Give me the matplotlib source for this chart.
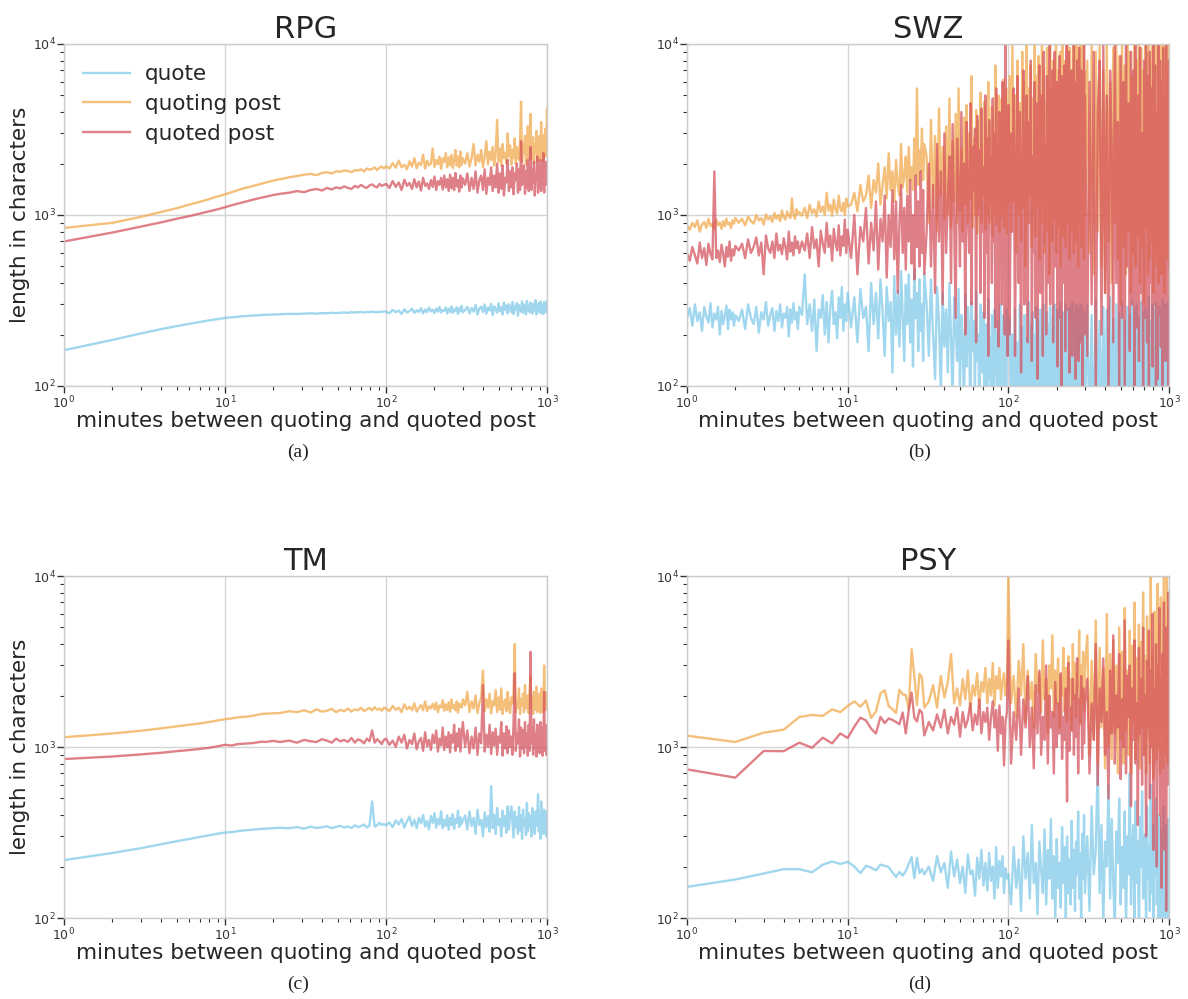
import matplotlib
matplotlib.use("Agg")
import matplotlib.pyplot as plt
from matplotlib.ticker import LogLocator, NullFormatter

# ---------------- x grids (minutes) ----------------
GRID_A = list(range(1, 21)) + list(range(22, 100, 3)) + list(range(100, 301, 5)) + list(range(310, 1001, 10))
GRID_PSY = list(range(1, 31)) + list(range(32, 100, 2)) + list(range(100, 301, 4)) + list(range(310, 1001, 10))
GRID_SWZ = ([round(1 + 0.04 * i, 2) for i in range(26)] + [round(2.1 + 0.1 * i, 1) for i in range(30)]
            + [round(5.2 + 0.2 * i, 1) for i in range(25)] + [10.5 + 0.5 * i for i in range(40)]
            + list(range(31, 101)) + list(range(102, 301, 2)) + list(range(310, 1001, 10)))

# ---------------- RPG ----------------
RPG_QUOTE = [162, 186, 203, 215, 224, 231, 237, 242, 246, 250, 252, 254, 256, 257, 258, 259, 260, 261, 261, 262,
             263, 264, 264, 265, 266, 265, 267, 266, 268, 267, 268, 269, 268, 270, 269, 270, 271, 269, 271, 270, 272, 271, 270, 272, 271, 273,
             272, 266, 279, 270, 276, 264, 281, 269, 274, 283, 268, 277, 271, 285, 266, 280, 270, 287, 273, 279,
             267, 284, 272, 290, 269, 278, 275, 288, 265, 283, 271, 292, 268, 280, 276, 289, 264, 285, 273, 294, 270,
             278, 290, 266, 286, 272, 298, 262, 284, 291, 270, 300, 265, 288, 276, 302, 260, 293, 281, 268, 305,
             274, 289, 262, 308, 279, 296, 266, 301, 285, 270, 310, 263, 292, 280, 306, 258, 297, 284, 272, 312,
             268, 299, 287, 262, 315, 276, 294, 270, 308, 283, 265, 302, 290, 275, 318, 262, 296, 285, 306, 270,
             312, 266, 300, 288, 264, 310, 279, 296, 270, 314]
RPG_QUOTING = [840, 900, 975, 1040, 1095, 1150, 1195, 1240, 1285, 1320, 1360, 1395, 1430, 1455, 1480, 1505, 1530, 1550, 1570, 1590,
               1620, 1660, 1690, 1720, 1740, 1710, 1760, 1780, 1750, 1800, 1790, 1820, 1810, 1780, 1830, 1820, 1850, 1800, 1870, 1840, 1860, 1900, 1830, 1890, 1920, 1870,
               1930, 1870, 2010, 1890, 2080, 1900, 1970, 1850, 2060, 1920, 2150, 1880, 2020, 1960, 2250, 1870, 2080, 1950, 2000, 2450,
               1910, 2100, 1980, 2200, 1860, 2150, 2040, 2300, 1900, 2180, 1950, 2250, 1880, 2100, 2400, 1940, 2200, 1900, 2350, 1960, 2150,
               2000, 2300, 1920, 2150, 2600, 1950, 2250, 2050, 2400, 1900, 2200, 2700, 1980, 2350, 2100, 2500, 1940, 2300, 3600, 2050,
               2450, 1950, 2600, 2150, 2300, 2000, 3000, 2200, 2550, 1970, 2400, 2150, 2800, 2000, 2500, 2250, 2100, 2700, 4600, 2050,
               2600, 2300, 2900, 1980, 2450, 3300, 2150, 2700, 3900, 2100, 2500, 2850, 2000, 2600, 2350, 3100, 2050, 2750, 2400, 2900,
               2100, 3500, 2300, 2650, 2050, 2950, 2400, 3200, 2200, 4200]
RPG_QUOTED = [700, 790, 855, 905, 950, 985, 1020, 1050, 1080, 1110, 1140, 1165, 1190, 1210, 1230, 1250, 1265, 1280, 1295, 1310,
              1330, 1350, 1380, 1360, 1400, 1420, 1390, 1440, 1410, 1450, 1430, 1470, 1440, 1420, 1480, 1450, 1500, 1460, 1440, 1490, 1510, 1470, 1450, 1520, 1480, 1500,
              1520, 1440, 1580, 1460, 1550, 1400, 1610, 1480, 1540, 1420, 1620, 1450, 1570, 1390, 1650, 1480, 1530, 1420, 1600, 1460,
              1680, 1400, 1580, 1500, 1650, 1410, 1700, 1450, 1620, 1380, 1720, 1430, 1650, 1400, 1760, 1470, 1600, 1370, 1700, 1450, 1640,
              1500, 1750, 1380, 1650, 1420, 1800, 1350, 1600, 1700, 1400, 1850, 1330, 1650, 1500, 1900, 1380, 1700, 1450, 2000, 1350,
              1750, 1420, 1950, 1300, 1650, 1550, 2100, 1380, 1800, 1450, 1900, 1320, 1750, 1600, 2000, 1350, 1850, 1400, 2700, 1500,
              1700, 1950, 1330, 1800, 1450, 2100, 1380, 1900, 2500, 1400, 1850, 1550, 2050, 1300, 1750, 1600, 2200, 1350, 1950, 1450,
              2100, 1380, 1800, 1650, 2300, 1350, 1900, 1500, 2050, 2000]

# ---------------- TM ----------------
TM_QUOTE = [218, 240, 256, 270, 281, 290, 298, 305, 311, 316, 318, 322, 325, 327, 329, 331, 332, 333, 334, 335,
            337, 335, 340, 333, 342, 336, 339, 344, 335, 341, 346, 338, 343, 336, 348, 340, 345, 352, 338, 347, 480, 342, 349, 360, 350, 355,
            348, 362, 340, 372, 352, 380, 338, 368, 392, 345, 375, 335, 385, 358, 400, 342, 370, 330, 395, 360,
            410, 338, 380, 352, 420, 335, 375, 345, 398, 328, 385, 350, 405, 332, 378, 360, 425, 340, 388, 355, 370,
            398, 330, 420, 345, 385, 310, 430, 350, 375, 300, 415, 340, 395, 320, 590, 335, 400, 310, 440, 350,
            380, 300, 425, 345, 395, 315, 450, 330, 405, 450, 360, 295, 420, 340, 390, 310, 445, 325, 400, 290,
            430, 350, 380, 305, 470, 320, 410, 340, 395, 300, 440, 330, 385, 310, 420, 345, 400, 530, 320, 395,
            290, 480, 340, 410, 310, 430, 350, 380, 300, 420]
TM_QUOTING = [1140, 1200, 1245, 1285, 1320, 1350, 1375, 1400, 1430, 1455, 1470, 1490, 1500, 1510, 1525, 1545, 1560, 1565, 1570, 1575,
              1580, 1620, 1600, 1640, 1590, 1660, 1610, 1630, 1670, 1600, 1650, 1620, 1680, 1610, 1660, 1640, 1700, 1620, 1660, 1690, 1640, 1710, 1650, 1680, 1630, 1700,
              1680, 1620, 1740, 1650, 1700, 1600, 1780, 1660, 1720, 1640, 1800, 1610, 1690, 1760, 1640, 1850, 1620, 1730, 1680, 1790,
              1660, 1820, 1600, 1750, 1700, 1880, 1630, 1780, 1650, 1830, 1610, 1900, 1680, 1760, 1640, 1850, 1590, 1800, 1720, 1700, 1900,
              1750, 2100, 1600, 1850, 1680, 2000, 1580, 1800, 1950, 2800, 1620, 1900, 1700, 2050, 1570, 1850, 1750, 2150, 1600, 1950,
              1650, 2200, 1560, 1800, 1900, 1620, 2100, 1700, 1580, 1950, 1800, 2050, 4000, 1600, 1850, 1700, 2200, 1560, 1900, 1750,
              2050, 1600, 2300, 1680, 1850, 2000, 1580, 2150, 2600, 1700, 1950, 1560, 2100, 1800, 1650, 2250, 1600, 1900, 1750, 2050,
              1580, 2200, 1700, 1850, 1600, 3000, 1750, 2100, 1650, 1900]
TM_QUOTED = [850, 880, 905, 925, 945, 960, 975, 990, 1010, 1030, 1020, 1040, 1045, 1050, 1055, 1065, 1075, 1070, 1080, 1085,
             1070, 1090, 1060, 1100, 1080, 1070, 1110, 1090, 1060, 1120, 1080, 1100, 1070, 1130, 1060, 1110, 1090, 1050, 1120, 1080, 1250, 1060, 1110, 1080, 1040, 1100,
             1120, 1030, 1090, 1000, 1150, 1060, 1180, 980, 1100, 1040, 1200, 970, 1080, 1130, 950, 1220, 1010, 1100, 960, 1180,
             1050, 1250, 940, 1120, 1020, 1300, 960, 1150, 1000, 1220, 930, 1180, 1060, 1350, 950, 1200, 1010, 1280, 940, 1150, 1400,
             1000, 1250, 920, 1150, 980, 1300, 900, 1200, 1050, 2300, 940, 1180, 1000, 1350, 910, 1220, 1020, 1280, 900, 1150,
             1060, 1400, 890, 1200, 980, 1320, 920, 1250, 1000, 1150, 900, 1380, 2700, 950, 1200, 1050, 1450, 880, 1300, 980,
             1250, 920, 1400, 1000, 1200, 890, 1350, 950, 3600, 1050, 1300, 900, 1450, 980, 1200, 880, 1350, 1020, 1250, 920,
             1400, 960, 1300, 890, 1150, 2100, 950, 1350, 900, 1250]

# ---------------- PSY ----------------
PSY_QUOTE = [152, 168, 182, 193, 193, 185, 205, 214, 207, 213, 200, 183, 202, 197, 190, 205, 202, 198, 185, 174,
             186, 177, 188, 207, 227, 171, 225, 183, 193, 180,
             200, 165, 230, 185, 210, 150, 245, 175, 220, 160, 200, 140, 235, 180, 190, 135, 225, 170, 250, 155,
             210, 145, 240, 165, 200, 130, 260, 150, 215, 175, 230, 140, 195, 170,
             180, 120, 260, 150, 220, 110, 300, 170, 240, 130, 350, 160, 210, 105, 280, 190, 140, 330, 120, 250,
             170, 380, 130, 230, 100, 290, 150, 210, 115, 340, 160, 260, 95, 300, 140, 220, 120, 370, 150, 250,
             110, 280, 180, 420, 130, 240, 90, 310, 170, 400, 140,
             300, 110, 450, 180, 250, 800, 140, 350, 95, 280, 200, 600, 130, 380, 160, 90, 320, 210, 500, 120,
             260, 150, 420, 85, 300, 180, 700, 120, 240, 350, 100, 480, 160, 280, 75, 390, 200, 550, 130, 230,
             310, 90, 450, 170, 260, 110, 600, 140, 350, 80, 290, 180, 500, 120, 240, 70, 400, 150, 330, 95,
             280, 200, 450, 60, 350, 130, 250, 85, 380, 140]
PSY_QUOTING = [1165, 1070, 1213, 1263, 1497, 1540, 1520, 1660, 1600, 1735, 1850, 1720, 1870, 1480, 1610, 2060, 2150, 1735, 1660, 1580,
               2160, 2030, 2010, 1670, 3730, 2600, 1760, 2680, 2540, 1700,
               1850, 2300, 1700, 2600, 1950, 2400, 3500, 1800, 2200, 1750, 2500, 1900, 2800, 1650, 2300, 2000, 2700, 1700, 2400, 2100,
               2900, 1800, 2500, 2000, 3100, 1750, 2600, 2200, 2900, 1900, 2400, 2700, 2000, 2300,
               10000, 1800, 2600, 1500, 3200, 2000, 4000, 1400, 2800, 1900, 2400, 1300, 3500, 2100, 2700, 1600, 4200, 1900, 2500, 1200,
               3000, 2200, 4500, 1500, 2800, 1800, 3300, 1300, 2600, 2000, 3800, 1600, 2900, 1400, 3400, 2100, 2500, 1250, 4000, 1900,
               3100, 1500, 2700, 2200, 4800, 1350, 3000, 1800, 3600, 1600, 2900,
               4500, 900, 3200, 1100, 5500, 800, 3800, 1300, 2900, 750, 6000, 1000, 3500, 850, 4200, 1200, 3000, 700, 5000, 1100,
               3600, 800, 6500, 1250, 2800, 900, 4800, 700, 3900, 1400, 7000, 850, 3300, 1100, 5200, 750, 4100, 1300, 8000, 900,
               3400, 700, 5800, 1150, 4500, 800, 10000, 1000, 3600, 650, 6200, 1200, 4400, 850, 9000, 1000, 5000, 700, 7500, 1300,
               3800, 750, 10000, 1100, 5500, 900, 12000, 800, 6500, 1500]
PSY_QUOTED = [740, 662, 948, 945, 1060, 990, 1133, 1050, 1200, 1130, 1315, 1485, 1430, 1280, 1200, 1500, 1380, 1470, 1440, 1400,
              1360, 1590, 1200, 1650, 2080, 1485, 1410, 1650, 1590, 1170,
              1400, 1250, 1550, 1300, 1650, 1200, 1500, 1350, 1700, 1150, 1600, 1300, 1450, 1800, 1250, 1550, 1350, 1900, 1200, 1600,
              1400, 1700, 1100, 1500, 1850, 1300, 1650, 950, 1750, 1200, 1500, 780, 1400, 1600,
              4200, 800, 1600, 1100, 2200, 900, 1900, 1300, 2600, 1000, 1700, 750, 2300, 1200, 2800, 900, 1500, 1100, 3000, 800,
              2000, 1300, 1600, 700, 2400, 1000, 1800, 1200, 2700, 850, 1500, 1100, 2200, 480, 3100, 950, 1700, 1250, 2500, 900,
              2000, 1150, 3300, 700, 1900, 1400, 2600, 850, 2200, 1050, 1800,
              2500, 700, 1800, 1100, 4000, 600, 2200, 1400, 3300, 900, 1600, 500, 2800, 1200, 4500, 800, 2000, 1300, 3500, 650,
              1900, 1000, 5500, 700, 2600, 1500, 3000, 450, 2200, 1100, 4200, 800, 1800, 350, 3800, 1200, 2500, 600, 5000, 900,
              2000, 300, 3200, 1300, 4800, 500, 2800, 1000, 6000, 250, 2200, 800, 4000, 200, 3000, 1100, 6500, 400, 2600, 150,
              3500, 900, 7000, 250, 5000, 110, 4000, 600, 8000, 1500]

# ---------------- SWZ ----------------
SWZ_QUOTE = [250, 285, 225, 300, 240, 270, 210, 290, 255, 235, 305, 220, 265, 245, 290, 200, 275, 230, 260, 295, 215, 280, 245, 270, 225, 260,
             240, 280, 215, 300, 250, 230, 290, 205, 270, 245, 310, 225, 260, 285, 210, 275, 240, 300, 220, 265, 250, 290, 195, 280,
             235, 305, 245, 270, 215, 290,
             260, 450, 230, 300, 210, 320, 160, 280, 250, 340, 200, 310, 180, 290, 360, 230, 270, 190, 330, 250, 380, 210, 300, 240, 350,
             220, 330, 180, 370, 250, 290, 160, 400, 230, 350, 190, 420, 270, 150, 380, 240, 310, 120, 440, 200,
             360, 170, 470, 260, 140, 390, 230, 450, 180, 320, 130, 480, 250, 350, 160, 420, 210, 300, 140, 460,
             300, 150, 420, 200, 110, 380, 240, 90, 350, 170, 280, 120, 400, 190, 80, 330, 220, 140, 370, 100,
             260, 180, 75, 340, 130, 290, 210, 70, 310, 160, 240, 95, 360, 140, 200, 65, 300, 180, 120, 270,
             60, 230, 150, 90, 320, 110, 190, 55, 260, 140, 80, 280, 120, 210, 50, 240, 170, 70, 300, 100,
             190, 45, 260, 130, 85, 230, 60, 280, 150, 200,
             250, 60, 200, 45, 280, 80, 180, 50, 300, 70, 220, 40, 260, 90, 190, 55, 310, 65, 230, 45,
             270, 75, 200, 50, 290, 60, 240, 40, 280, 85, 210, 50, 300, 70, 250, 45, 270, 60, 230, 40,
             290, 55, 210, 80, 260, 45, 300, 65, 240, 50, 280, 70, 190, 45, 310, 60, 250, 40, 270, 85,
             220, 55, 300, 65, 240, 45, 280, 75, 200, 50, 290, 60, 260, 40, 310, 70, 230, 55, 270, 45,
             250, 80, 300, 50, 220, 60, 280, 40, 260, 70, 300, 55, 240, 45, 290, 65, 210, 50, 270, 60,
             300, 50, 260, 40, 320, 70, 240, 45, 290, 60, 280, 35, 330, 55, 250, 40, 300, 65, 270, 45,
             310, 50, 240, 35, 290, 70, 260, 40, 320, 55, 280, 45, 300, 60, 250, 35, 310, 50, 270, 40,
             290, 65, 260, 45, 330, 55, 240, 40, 300, 60, 280, 35, 310, 50, 260, 45, 290, 70, 250, 40,
             320, 55, 270, 45, 300, 60, 280, 35, 310, 50]
SWZ_QUOTING = [870, 820, 900, 850, 930, 800, 880, 910, 840, 950, 860, 890, 820, 940, 870, 905, 830, 920, 860, 950, 880, 900, 840, 930, 890, 960,
               900, 950, 870, 980, 920, 890, 1000, 930, 960, 880, 1010, 940, 980, 910, 1030, 950, 1000, 920, 1060, 970,
               940, 1050, 990, 960, 1250, 1000, 950, 1080, 1010, 1040,
               990, 1100, 960, 1150, 1020, 1080, 980, 1200, 1040, 1120, 1000, 1350, 1060, 1150, 990, 1230, 1080, 1020, 1300, 1100,
               1050, 1180, 1000, 1250, 1120,
               1150, 1350, 1050, 1500, 1200, 1300, 1700, 1100, 1600, 1350, 2000, 1150, 1500, 1900, 1250, 2300, 1400, 1800, 1200, 2100,
               1500, 1300, 2600, 1450, 1700, 2200, 1350, 2500, 1600, 1900, 1400, 2800, 1700, 5500, 1500, 2400, 1800, 3200, 1600, 2600,
               2200, 900, 3600, 1100, 2900, 800, 4200, 1300, 2500, 950, 3300, 1000, 4800, 850, 2700, 1200, 3900, 900, 5500, 1050,
               2400, 800, 3700, 1150, 4400, 900, 3000, 1250, 6500, 850, 2800, 1000, 4100, 780, 3500, 1100, 5200, 900, 2600, 1300,
               4600, 820, 3400, 1000, 6000, 900, 2900, 1150, 4300, 750, 3800, 1050, 7500, 880, 3100, 1200, 5000, 800, 3600, 950,
               4800, 1100, 6200, 850, 3300, 1000, 5500, 780, 4000, 1200,
               6500, 800, 10000, 1200, 5000, 600, 8000, 1000, 4500, 700, 9000, 1100, 6000, 500, 10000, 900, 5500, 1300, 7500, 650,
               4800, 1000, 10000, 750, 6500, 1150, 8500, 550, 5200, 900, 10000, 1200, 7000, 600, 4500, 1000, 9500, 800, 6000, 450,
               10000, 1100, 5500, 700, 8000, 950, 4200, 1250, 10000, 600, 7000, 850, 5800, 1100, 9000, 500, 6500, 1000, 10000, 750,
               5000, 1200, 8000, 650, 6000, 900, 10000, 1100, 4800, 550, 9500, 1000, 7000, 800, 5500, 1300, 10000, 600, 8000, 950,
               6500, 700, 10000, 1150, 5200, 500, 9000, 900, 7500, 1050, 10000, 650, 6000, 1200, 8500, 800, 10000, 550, 7000, 1000,
               8000, 600, 10000, 450, 9000, 800, 10000, 500, 7000, 350, 10000, 700, 6000, 400, 9500, 900, 10000, 550, 8500, 300,
               10000, 650, 7500, 450, 10000, 800, 9000, 350, 6500, 600, 10000, 500, 8000, 750, 10000, 400, 9500, 650, 7000, 300,
               10000, 850, 9000, 450, 10000, 550, 8000, 700, 10000, 350, 7500, 600, 10000, 500, 9500, 400, 10000, 800, 6500, 450,
               10000, 650, 9000, 350, 10000, 550, 8500, 700, 10000, 500]
SWZ_QUOTED = [600, 540, 650, 580, 520, 690, 560, 640, 510, 680, 590, 550, 1800, 560, 620, 530, 670, 590, 500, 650, 570, 700, 540, 630, 580, 660,
              620, 680, 560, 720, 600, 650, 740, 580, 690, 450, 760, 640, 600, 700, 560, 780, 620, 670, 590, 730,
              650, 550, 800, 610, 690, 580, 750, 640, 700, 600,
              700, 620, 780, 560, 850, 640, 720, 500, 810, 680, 600, 900, 650, 760, 540, 830, 690, 620, 870, 580,
              750, 660, 940, 600, 820,
              560, 1000, 450, 850, 700, 1100, 520, 900, 620, 1200, 480, 950, 700, 1300, 430, 1000, 650, 1400, 550, 1200,
              350, 900, 1500, 600, 1100, 480, 1300, 700, 1600, 520, 1000, 420, 1700, 650, 1200, 500, 1800, 600, 1400, 450,
              800, 2000, 500, 1500, 350, 2600, 700, 1800, 300, 3000, 600, 1200, 2200, 400, 3400, 900, 250, 2800, 1500, 500,
              4000, 700, 2000, 200, 3500, 1100, 600, 4500, 300, 2500, 1400, 3200, 180, 3800, 1000, 2400, 350, 4200, 800, 1900,
              250, 5000, 600, 2800, 150, 3600, 1200, 2200, 400, 4800, 700, 3000, 220, 5500, 900, 2600, 170, 4000, 1300, 3300,
              300, 6000, 550, 2700, 200, 10000, 800, 3500, 150, 4400,
              200, 3000, 800, 5500, 150, 2000, 6500, 400, 4000, 120, 1500, 7000, 300, 2500, 5000, 180, 3500, 900, 8000, 140,
              2200, 600, 6000, 250, 4500, 110, 3000, 7500, 350, 1800, 5000, 150, 9000, 700, 2600, 200, 6500, 400, 3800, 10000,
              300, 5500, 1200, 7000, 180, 4000, 9000, 500, 3000, 6000, 130, 4500, 700, 8500, 250, 3500, 100, 6500, 400, 5000,
              1000, 7500, 160, 3200, 10000, 280, 4200, 600, 9000, 120, 2800, 5500, 350, 7000, 150, 4000, 800, 10000, 220, 6000,
              110, 3800, 500, 8000, 260, 5200, 140, 9500, 400, 4500, 180, 7000, 900, 3500, 100, 6500, 300, 10000, 200, 5000,
              150, 6000, 300, 9000, 90, 4000, 8000, 200, 10000, 350, 5000, 80, 7000, 2500, 180, 10000, 400, 3500, 95, 8500,
              250, 6000, 85, 10000, 500, 4500, 160, 9000, 300, 7000, 75, 10000, 220, 5000, 140, 9500, 350, 3000, 90, 8000,
              250, 10000, 180, 6500, 80, 9000, 400, 5500, 130, 10000, 300, 7500, 85, 4000, 110, 10000, 260, 8000, 170, 6000,
              70, 9500, 330, 5000, 140, 10000, 200, 7000, 90, 8000]

PANELS = [
    ("RPG", GRID_A, RPG_QUOTE, RPG_QUOTING, RPG_QUOTED, "(a)"),
    ("SWZ", GRID_SWZ, SWZ_QUOTE, SWZ_QUOTING, SWZ_QUOTED, "(b)"),
    ("TM", GRID_A, TM_QUOTE, TM_QUOTING, TM_QUOTED, "(c)"),
    ("PSY", GRID_PSY, PSY_QUOTE, PSY_QUOTING, PSY_QUOTED, "(d)"),
]
LABELS = ["quote", "quoting post", "quoted post"]
COLORS = ["#7dc9ea", "#f1a849", "#d4515c"]

W, H = 1188, 999
fig = plt.figure(figsize=(W / 100, H / 100), dpi=100)

rects = [(64, 44, 547, 386), (687, 44, 1169, 386), (64, 576, 547, 918), (687, 576, 1169, 918)]
captions_xy = [(298, 452), (920, 452), (298, 984), (920, 984)]

for i, (title, xs, q, qg, qd, cap) in enumerate(PANELS):
    l, t, r, b = rects[i]
    ax = fig.add_axes([l / W, 1 - b / H, (r - l) / W, (b - t) / H])
    for ys, lab, col in zip([q, qg, qd], LABELS, COLORS):
        n = min(len(xs), len(ys))
        ax.plot(xs[:n], ys[:n], color=col, alpha=0.73, lw=1.7, label=lab)
    ax.set_xscale("log")
    ax.set_yscale("log")
    ax.set_xlim(1, 1000)
    ax.set_ylim(100, 10000)
    ax.grid(True, which="major", color="#d5d5d5", lw=1.0)
    ax.set_axisbelow(True)
    for s in ax.spines.values():
        s.set_color("#cccccc")
        s.set_linewidth(1.0)
    ax.xaxis.set_minor_locator(LogLocator(base=10, subs=range(2, 10)))
    ax.yaxis.set_minor_locator(LogLocator(base=10, subs=range(2, 10)))
    ax.xaxis.set_minor_formatter(NullFormatter())
    ax.yaxis.set_minor_formatter(NullFormatter())
    ax.tick_params(which="major", direction="out", length=5, width=1, color="#333333",
                   labelsize=9, labelcolor="#333333", pad=1, top=False, right=False)
    ax.tick_params(which="minor", direction="out", length=3, width=0.8, color="#333333",
                   top=False, right=False)
    ax.set_title(title, fontsize=22, color="#262626", pad=3)
    ax.set_xlabel("minutes between quoting and quoted post", fontsize=15.5, color="#262626", labelpad=0)
    if i in (0, 2):
        ax.set_ylabel("length in characters", fontsize=15.5, color="#262626", labelpad=2)
    if i == 0:
        ax.legend(loc="upper left", frameon=False, fontsize=15.5, handlelength=2.2,
                  handletextpad=0.7, labelspacing=0.45, bbox_to_anchor=(0.008, 0.985),
                  borderaxespad=0.3, labelcolor="#262626")
    cx, cy = captions_xy[i]
    fig.text(cx / W, 1 - cy / H, cap, ha="center", va="center", fontsize=14,
             family="Liberation Serif", color="#222222")

fig.savefig("out.png", dpi=100)
